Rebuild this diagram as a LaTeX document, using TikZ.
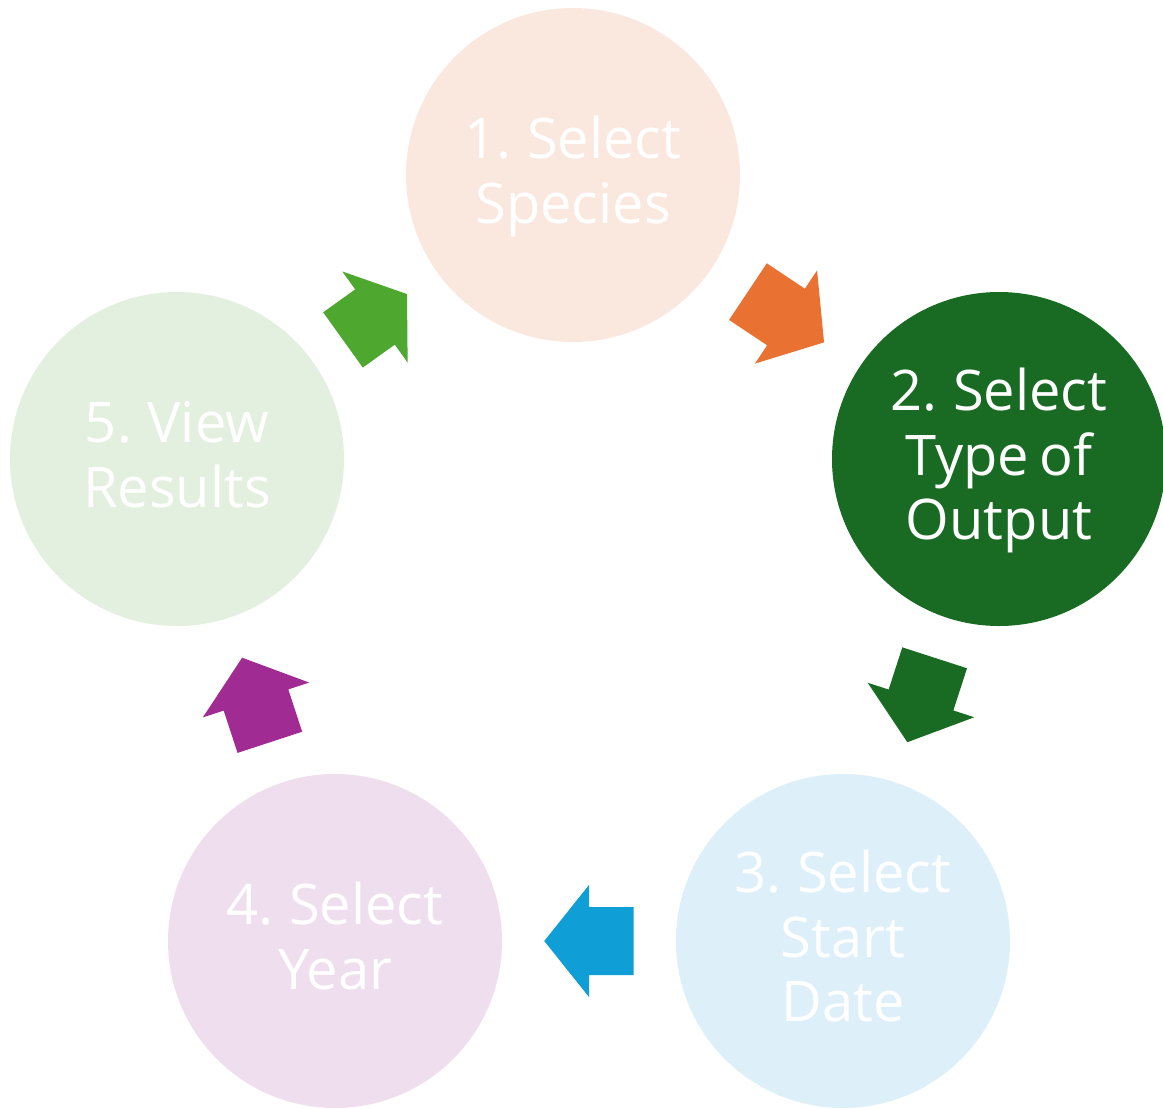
\documentclass[tikz,border=0pt]{standalone}
\usepackage{fontspec}
\newfontfamily\stepfont[WordSpace=0.75]{Open Sans}
\usetikzlibrary{calc}

% stage fills
\definecolor{peachtint}{HTML}{FAE8DF}
\definecolor{forest}{HTML}{196B24}
\definecolor{skytint}{HTML}{DDEFF8}
\definecolor{lilactint}{HTML}{EFDFEE}
\definecolor{leaftint}{HTML}{E3F0DF}
% arrow fills
\definecolor{arrorange}{HTML}{E97132}
\definecolor{arrblue}{HTML}{0F9ED5}
\definecolor{arrpurple}{HTML}{A02B93}
\definecolor{arrgreen}{HTML}{4EA72E}

% invisible strut giving every line the same height and depth
\newcommand\ls{\rule[-14pt]{0pt}{60pt}}

% block arrow halfway between two stages, pointing from #1 to #2;
% its length follows the gap between the two circles
\newcommand\cyclearrow[3]{%
  \path let \p1=($(#2)-(#1)$) in
    \pgfextra{%
      \pgfmathsetmacro\cyang{atan2(\y1,\x1)}%
      \pgfmathsetmacro\cylen{0.514*(veclen(\x1,\y1)-334)}%
      \xdef\cyang{\cyang}\xdef\cylen{\cylen}};
  \begin{scope}[shift={($(#1)!0.5!(#2)$)}, rotate=\cyang]
    \fill[#3] ({-\cylen/2},34) -- (0,34) -- (0,56) -- ({\cylen/2},0)
      -- (0,-56) -- (0,-34) -- ({-\cylen/2},-34) -- cycle;
  \end{scope}}

\begin{document}
\begin{tikzpicture}[x=1pt,y=-1pt,
  stage/.style={circle, minimum size=334pt, inner sep=0pt, text=white,
    align=center, font=\stepfont\fontsize{56}{64.5}\selectfont}]
\useasboundingbox (0,0) rectangle (1163,1109);
\fill[white] (0,0) rectangle (1163,1109);
\clip (0,0) rectangle (1163,1109);

\node[stage, fill=peachtint] (s1) at (573,175) {\ls 1. Select\\\ls Species};
\node[stage, fill=forest]    (s2) at (999,459) {\ls 2. Select\\\ls Type of\\\ls Output};
\node[stage, fill=skytint]   (s3) at (843,941) {\ls 3. Select\\\ls Start\\\ls Date};
\node[stage, fill=lilactint] (s4) at (335,941) {\ls 4. Select\\\ls Year};
\node[stage, fill=leaftint]  (s5) at (177,459) {\ls 5. View\\\ls Results};

\cyclearrow{s1}{s2}{arrorange}
\cyclearrow{s2}{s3}{forest}
\cyclearrow{s3}{s4}{arrblue}
\cyclearrow{s4}{s5}{arrpurple}
\cyclearrow{s5}{s1}{arrgreen}
\end{tikzpicture}
\end{document}
